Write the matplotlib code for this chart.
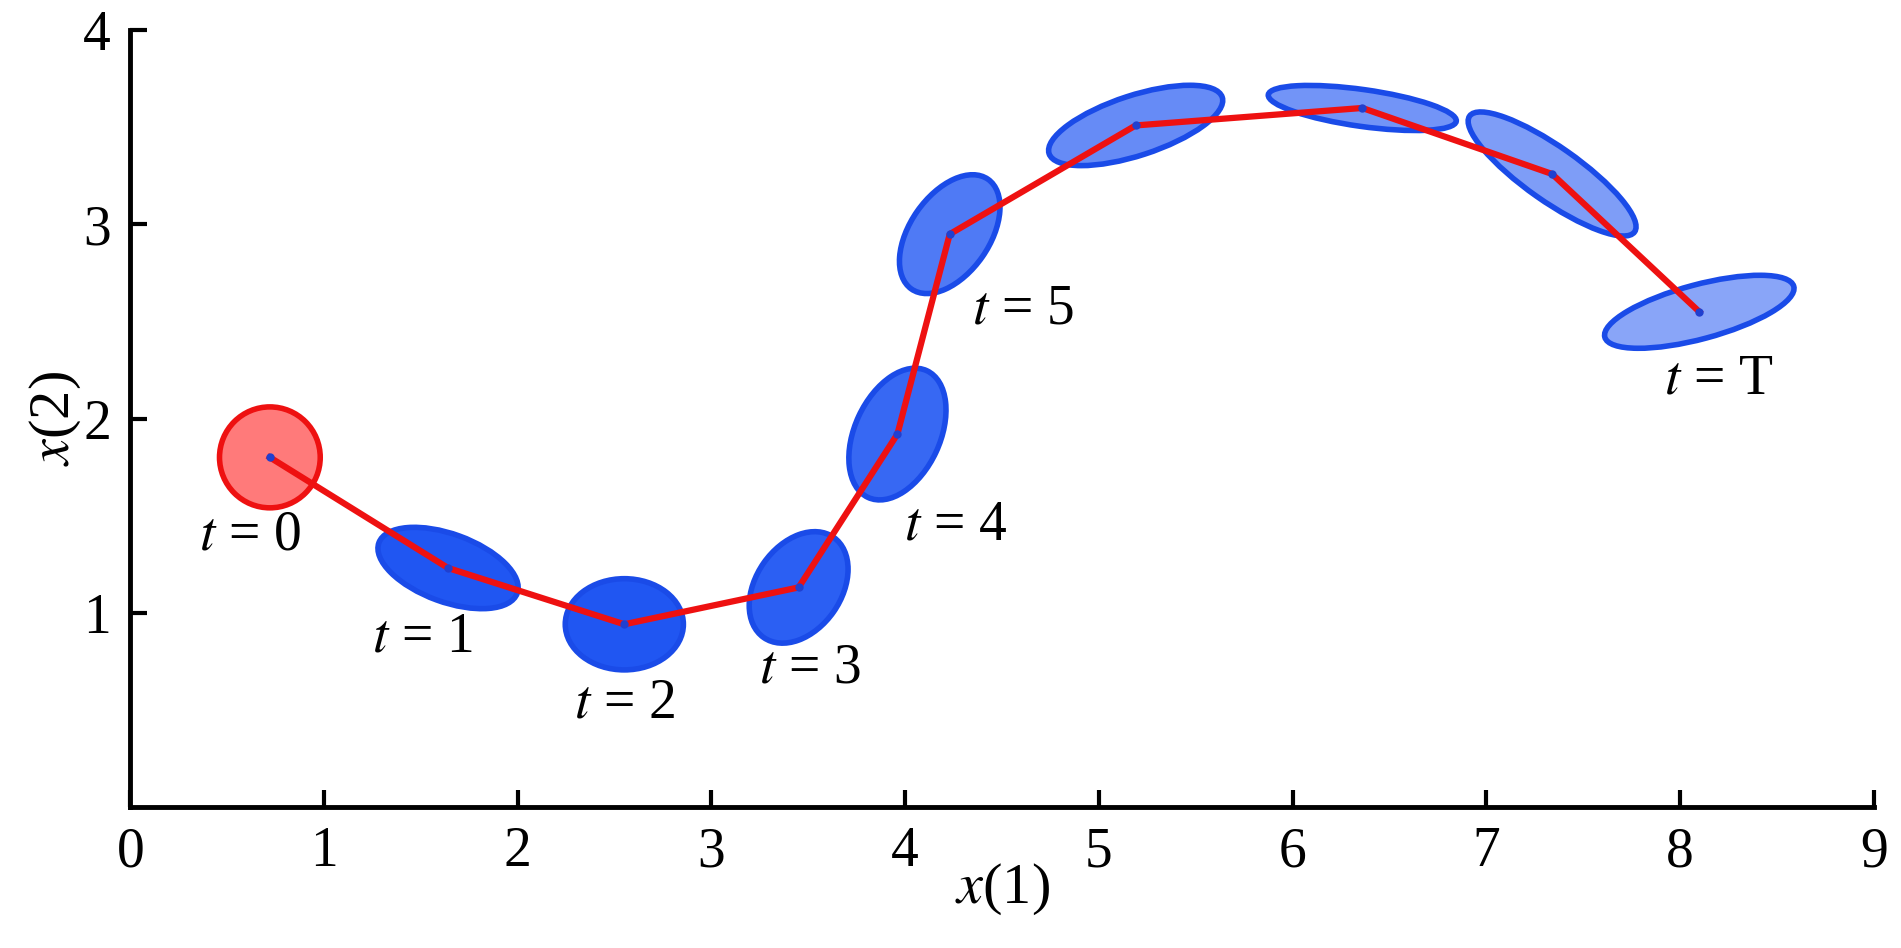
import matplotlib.pyplot as plt
from matplotlib.patches import Ellipse, Circle

plt.rcParams['font.family'] = ['Liberation Serif', 'DejaVu Serif']
plt.rcParams['mathtext.fontset'] = 'stix'

# trajectory means
xs = [0.72, 1.64, 2.55, 3.45, 3.96, 4.23, 5.19, 6.36, 7.34, 8.10]
ys = [1.80, 1.23, 0.94, 1.13, 1.92, 2.95, 3.51, 3.60, 3.26, 2.55]
# ellipse widths, heights (data units) and angles (deg)
ew = [0.76, 0.61, 0.63, 0.72, 0.69, 0.94, 0.98, 1.04, 1.01]
eh = [0.35, 0.47, 0.44, 0.44, 0.41, 0.31, 0.19, 0.28, 0.28]
ea = [-20, 0, 55, 65, 55, 18, -8, -35, 15]
ealpha = [0.95, 0.95, 0.9, 0.85, 0.75, 0.65, 0.6, 0.55, 0.5]
labels = ['$t$ = 0', '$t$ = 1', '$t$ = 2', '$t$ = 3', '$t$ = 4', '$t$ = 5', '$t$ = T']
lab_x = [0.62, 1.51, 2.55, 3.51, 4.26, 4.61, 8.20]
lab_y = [1.40, 0.87, 0.53, 0.71, 1.45, 2.56, 2.20]

fig = plt.figure(figsize=(19.01, 9.48), dpi=100)
ax = fig.add_axes([0.0686, 0.149, 0.917, 0.819])

c0 = Circle((xs[0], ys[0]), 0.26, facecolor=(1, 0.2, 0.2, 0.65), edgecolor='#ee1111', lw=4)
ax.add_patch(c0)
for i in range(9):
    e = Ellipse((xs[i + 1], ys[i + 1]), ew[i], eh[i], angle=ea[i],
                facecolor=(0.08, 0.3, 0.95, ealpha[i]), edgecolor='#1a4be8', lw=4)
    ax.add_patch(e)

ax.plot(xs, ys, color='#ee1111', lw=4.5, zorder=5)
ax.plot(xs, ys, 'o', color='#2040d0', ms=5, zorder=6)

for lx, ly, s in zip(lab_x, lab_y, labels):
    ax.text(lx, ly, s, fontsize=40, ha='center', va='center')

ax.set_xlim(0, 9)
ax.set_ylim(0, 4)
ax.set_xticks(range(10))
ax.set_yticks([1, 2, 3, 4])
ax.tick_params(direction='in', length=12, width=3, labelsize=40, pad=14)
for s in ['top', 'right']:
    ax.spines[s].set_visible(False)
for s in ['left', 'bottom']:
    ax.spines[s].set_linewidth(3.5)
ax.set_xlabel('$x$(1)', fontsize=42, labelpad=-12)
ax.set_ylabel('$x$(2)', fontsize=42, labelpad=0)

fig.savefig('out.png', dpi=100)
